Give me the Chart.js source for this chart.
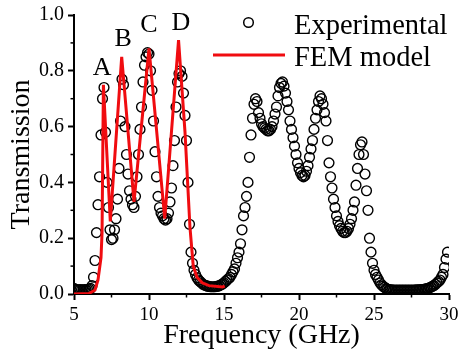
<!DOCTYPE html>
<html><head><meta charset="utf-8">
<script src="https://cdn.jsdelivr.net/npm/chart.js@4.4.0/dist/chart.umd.min.js"></script>
<style>html,body{margin:0;padding:0;background:#fff;overflow:hidden}#wrap{width:459px;height:356px}</style>
</head><body><div id="wrap"><canvas id="c" width="459" height="356"></canvas></div>
<script>
// ---- data ----
const expFreq = [
 5.0,5.1,5.2,5.3,5.4,5.5,5.6,5.7,5.8,5.9,
 6.0,6.1,6.2,6.3,6.4,6.5,6.6,6.7,6.8,6.9,
 7.0,7.1,7.2,7.3,7.4,7.5,7.6,7.7,7.8,7.9,
 8.0,8.1,8.2,8.3,8.4,8.5,8.6,8.7,8.8,8.9,
 9.0,9.1,9.2,9.3,9.4,9.5,9.6,9.7,9.8,9.9,
 10.0,10.1,10.2,10.3,10.4,10.5,10.6,10.7,10.8,10.9,
 11.0,11.1,11.2,11.3,11.4,11.5,11.6,11.7,11.8,11.9,
 12.0,12.1,12.2,12.3,12.4,12.5,12.6,12.7,12.8,12.9,
 13.0,13.1,13.2,13.3,13.4,13.5,13.6,13.7,13.8,13.9,
 14.0,14.1,14.2,14.3,14.4,14.5,14.6,14.7,14.8,14.9,
 15.0,15.1,15.2,15.3,15.4,15.5,15.6,15.7,15.8,15.9,
 16.0,16.1,16.2,16.3,16.4,16.5,16.6,16.7,16.8,16.9,
 17.0,17.1,17.2,17.3,17.4,17.5,17.6,17.7,17.8,17.9,
 18.0,18.1,18.2,18.3,18.4,18.5,18.6,18.7,18.8,18.9,
 19.0,19.1,19.2,19.3,19.4,19.5,19.6,19.7,19.8,19.9,
 20.0,20.1,20.2,20.3,20.4,20.5,20.6,20.7,20.8,20.9,
 21.0,21.1,21.2,21.3,21.4,21.5,21.6,21.7,21.8,21.9,
 22.0,22.1,22.2,22.3,22.4,22.5,22.6,22.7,22.8,22.9,
 23.0,23.1,23.2,23.3,23.4,23.5,23.6,23.7,23.8,23.9,
 24.0,24.1,24.2,24.3,24.4,24.5,24.6,24.7,24.8,24.9,
 25.0,25.1,25.2,25.3,25.4,25.5,25.6,25.7,25.8,25.9,
 26.0,26.1,26.2,26.3,26.4,26.5,26.6,26.7,26.8,26.9,
 27.0,27.1,27.2,27.3,27.4,27.5,27.6,27.7,27.8,27.9,
 28.0,28.1,28.2,28.3,28.4,28.5,28.6,28.7,28.8,28.9,
 29.0,29.1,29.2,29.3,29.4,29.5,29.6,29.7,29.8,29.9
];
const expTrans = [
 0.02,0.016,0.015,0.015,0.016,0.015,0.015,0.016,0.015,0.016,
 0.018,0.02,0.03,0.06,0.12,0.22,0.32,0.42,0.57,0.70,
 0.74,0.58,0.40,0.31,0.23,0.195,0.20,0.23,0.27,0.34,
 0.45,0.62,0.77,0.75,0.60,0.50,0.43,0.37,0.34,0.32,
 0.31,0.35,0.42,0.50,0.59,0.67,0.76,0.82,0.85,0.865,
 0.86,0.80,0.73,0.62,0.51,0.42,0.35,0.31,0.29,0.28,
 0.27,0.265,0.27,0.29,0.33,0.38,0.46,0.55,0.67,0.76,
 0.79,0.80,0.78,0.72,0.64,0.55,0.40,0.25,0.15,0.11,
 0.085,0.07,0.058,0.05,0.045,0.04,0.035,0.032,0.03,0.028,
 0.027,0.026,0.026,0.026,0.026,0.027,0.028,0.03,0.033,0.036,
 0.04,0.045,0.05,0.055,0.06,0.07,0.08,0.09,0.11,0.13,
 0.15,0.18,0.23,0.28,0.31,0.35,0.40,0.49,0.57,0.63,
 0.68,0.70,0.69,0.65,0.63,0.61,0.60,0.595,0.59,0.585,
 0.585,0.59,0.60,0.62,0.645,0.67,0.71,0.74,0.755,0.76,
 0.745,0.72,0.69,0.66,0.62,0.59,0.56,0.53,0.50,0.47,
 0.45,0.435,0.425,0.42,0.425,0.44,0.46,0.49,0.52,0.55,
 0.59,0.63,0.66,0.69,0.71,0.70,0.68,0.65,0.62,0.55,
 0.47,0.42,0.38,0.34,0.31,0.28,0.26,0.245,0.235,0.225,
 0.22,0.22,0.225,0.235,0.25,0.27,0.30,0.33,0.39,0.45,
 0.50,0.535,0.545,0.50,0.43,0.37,0.30,0.20,0.15,0.11,
 0.085,0.07,0.06,0.05,0.04,0.033,0.028,0.024,0.02,0.018,
 0.016,0.015,0.015,0.014,0.014,0.014,0.014,0.014,0.014,0.014,
 0.014,0.014,0.014,0.014,0.014,0.014,0.014,0.014,0.015,0.015,
 0.015,0.016,0.016,0.017,0.018,0.019,0.02,0.022,0.025,0.028,
 0.03,0.035,0.04,0.045,0.05,0.06,0.07,0.095,0.125,0.15
];
const femFreq = [5.0,6.0,6.4,6.6,6.8,6.87,6.96,7.42,8.18,9.0,10.0,11.05,11.97,12.4,12.73,12.95,13.2,13.55,14.0,14.9,15.05];
const femTrans = [0.0,0.002,0.014,0.05,0.13,0.22,0.75,0.26,0.85,0.33,0.88,0.27,0.91,0.58,0.24,0.10,0.06,0.04,0.03,0.025,0.028];

const xTicks = [5,10,15,20,25,30];
const yTicks = [0.0,0.2,0.4,0.6,0.8,1.0];
const xMinor = [7.5,12.5,17.5,22.5,27.5];
const yMinor = [0.1,0.3,0.5,0.7,0.9];
const peakNames = ['A','B','C','D'];
const peakFreq = [6.87,8.27,10.0,12.13];
const peakTrans = [0.81,0.915,0.962,0.97];
const seriesNames = ['Experimental','FEM model'];
const xTitle = 'Frequency (GHz)';
const yTitle = 'Transmission';

const SERIF = '"Liberation Serif","Times New Roman",serif';
const RED = 'rgb(240,12,16)';

const expData = expFreq.map((f,i)=>({x:f,y:expTrans[i]}));
const femData = femFreq.map((f,i)=>({x:f,y:femTrans[i]}));

const decor = {
  id:'decor',
  afterDraw(chart){
    const {ctx, chartArea:a, scales:{x,y}} = chart;
    ctx.save();
    ctx.strokeStyle='#000'; ctx.lineWidth=1.5;
    xMinor.forEach(v=>{const p=x.getPixelForValue(v);ctx.beginPath();ctx.moveTo(p,a.bottom);ctx.lineTo(p,a.bottom+3.5);ctx.stroke();});
    yMinor.forEach(v=>{const p=y.getPixelForValue(v);ctx.beginPath();ctx.moveTo(a.left,p);ctx.lineTo(a.left-3.5,p);ctx.stroke();});
    ctx.fillStyle='#000';
    ctx.font='26px '+SERIF; ctx.textAlign='center'; ctx.textBaseline='middle';
    peakNames.forEach((t,i)=>ctx.fillText(t,x.getPixelForValue(peakFreq[i]),y.getPixelForValue(peakTrans[i])));
    // legend
    ctx.textAlign='left'; ctx.textBaseline='alphabetic'; ctx.font='28.5px '+SERIF;
    ctx.beginPath(); ctx.lineWidth=1.5; ctx.strokeStyle='#000';
    ctx.arc(248.5,22.5,4.8,0,Math.PI*2); ctx.stroke();
    ctx.fillText(seriesNames[0],294,34);
    ctx.beginPath(); ctx.lineWidth=3; ctx.strokeStyle=RED;
    ctx.moveTo(213,55); ctx.lineTo(285,55); ctx.stroke();
    ctx.fillText(seriesNames[1],294,66);
    ctx.restore();
  }
};

new Chart(document.getElementById('c'),{
  type:'scatter',
  data:{datasets:[
    {label:seriesNames[1],data:femData,showLine:true,borderColor:RED,borderWidth:3,pointRadius:0,tension:0,order:0,fill:false},
    {label:seriesNames[0],data:expData,showLine:false,pointStyle:'circle',pointRadius:4.9,borderWidth:1.4,borderColor:'#000',backgroundColor:'rgba(0,0,0,0)',order:1}
  ]},
  options:{
    responsive:false,animation:false,devicePixelRatio:1,
    layout:{padding:{left:0,right:10,top:15,bottom:0}},
    plugins:{legend:{display:false},tooltip:{enabled:false}},
    scales:{
      x:{type:'linear',min:5,max:30,
        afterBuildTicks:s=>{s.ticks=xTicks.map(v=>({value:v}));},
        afterFit:s=>{s.height=62;s.paddingLeft=0;s.paddingRight=0;},
        ticks:{color:'#000',font:{family:SERIF,size:19},padding:4,maxRotation:0,autoSkip:false,callback:v=>String(v)},
        grid:{display:true,drawOnChartArea:false,drawTicks:true,tickLength:6,tickColor:'#000',tickWidth:2},
        border:{display:true,color:'#000',width:2},
        title:{display:true,text:xTitle,color:'#000',font:{family:SERIF,size:28},padding:{top:0,bottom:4}}
      },
      y:{type:'linear',min:0,max:1,
        afterBuildTicks:s=>{s.ticks=yTicks.map(v=>({value:v}));},
        afterFit:s=>{s.width=74;s.paddingTop=0;s.paddingBottom=0;},
        ticks:{color:'#000',font:{family:SERIF,size:20},padding:4,autoSkip:false,callback:v=>Number(v).toFixed(1)},
        grid:{display:true,drawOnChartArea:false,drawTicks:true,tickLength:6,tickColor:'#000',tickWidth:2},
        border:{display:true,color:'#000',width:2},
        title:{display:true,text:yTitle,color:'#000',font:{family:SERIF,size:28},padding:{top:5,bottom:0}}
      }
    }
  },
  plugins:[decor]
});
</script></body></html>
